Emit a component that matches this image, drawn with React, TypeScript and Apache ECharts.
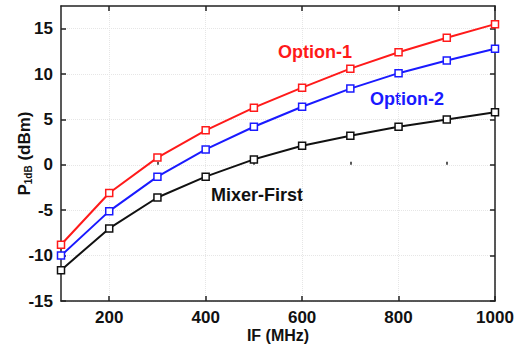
import React, { useEffect, useRef } from "react";
import * as echarts from "echarts";

const IF_MHZ = [100, 200, 300, 400, 500, 600, 700, 800, 900, 1000];
const OPTION1 = [-8.8, -3.1, 0.8, 3.8, 6.3, 8.5, 10.6, 12.4, 14.0, 15.5];
const OPTION2 = [-10.0, -5.1, -1.3, 1.7, 4.2, 6.4, 8.4, 10.1, 11.5, 12.8];
const MIXER_FIRST = [-11.6, -7.0, -3.6, -1.3, 0.6, 2.1, 3.2, 4.2, 5.0, 5.8];
const X_MAJOR = [200, 400, 600, 800, 1000];
const X_MINOR = [300, 500, 700, 900];
const Y_TICKS = [-15, -10, -5, 0, 5, 10, 15];

const FONT = "Liberation Sans, Arial, sans-serif";

export default function App() {
  const ref = useRef<HTMLDivElement>(null);
  useEffect(() => {
    document.body.style.margin = "0";
    const chart = echarts.init(ref.current!, null, { renderer: "svg" });
    const pairs = (ys: number[]) => IF_MHZ.map((x, i) => [x, ys[i]]);
    const mkSeries = (name: string, ys: number[], color: string) => ({
      name,
      type: "line",
      data: pairs(ys),
      xAxisIndex: 0,
      yAxisIndex: 0,
      symbol: "rect",
      symbolSize: 7,
      lineStyle: { color, width: 2 },
      itemStyle: { color: "#fff", borderColor: color, borderWidth: 1.5 },
      z: 5,
    });
    const baseX = {
      type: "value",
      min: 100,
      max: 1000,
      interval: 100,
      splitLine: { show: false },
    };
    chart.setOption({
      animation: false,
      backgroundColor: "#fff",
      textStyle: { fontFamily: FONT },
      grid: { left: 61, right: 24, top: 6, bottom: 44, show: false, containLabel: false, outerBoundsMode: "none" },
      xAxis: [
        {
          ...baseX,
          position: "bottom",
          name: "IF (MHz)",
          nameLocation: "middle",
          nameGap: 26,
          nameMoveOverlap: false,
          nameTextStyle: { fontSize: 16, fontWeight: "bold", color: "#111", fontFamily: FONT, verticalAlign: "top" },
          axisLine: { show: true, onZero: false, lineStyle: { color: "#222", width: 1.5 } },
          axisTick: { show: true, inside: true, length: 5, customValues: X_MAJOR, lineStyle: { color: "#222", width: 1.5 } },
          axisLabel: {
            show: true,
            customValues: X_MAJOR,
            formatter: (v: number) => String(v),
            margin: 8,
            fontSize: 17,
            fontWeight: "bold",
            color: "#111",
            fontFamily: FONT,
          },
          splitLine: { show: true, lineStyle: { color: "#e6e6e6", type: "dotted", width: 1 } },
        },
        {
          ...baseX,
          position: "bottom",
          axisLine: { show: false },
          axisTick: { show: true, inside: true, length: 3, customValues: X_MINOR, lineStyle: { color: "#222", width: 1.5 } },
          axisLabel: { show: false },
        },
        {
          ...baseX,
          position: "top",
          axisLine: { show: true, onZero: false, lineStyle: { color: "#222", width: 1.5 } },
          axisTick: { show: true, inside: true, length: 5, customValues: X_MAJOR, lineStyle: { color: "#222", width: 1.5 } },
          axisLabel: { show: false },
        },
      ],
      yAxis: [
        {
          type: "value",
          min: -15,
          max: 17.5,
          interval: 5,
          position: "left",
          name: "P{sub|1dB} (dBm)",
          nameLocation: "middle",
          nameGap: 28,
          nameMoveOverlap: false,
          nameTextStyle: {
            fontSize: 17,
            fontWeight: "bold",
            color: "#111",
            fontFamily: FONT,
            rich: { sub: { fontSize: 10, fontWeight: "bold", color: "#111", fontFamily: FONT, verticalAlign: "bottom", padding: [8, 0, 0, 0] } },
          },
          axisLine: { show: true, onZero: false, lineStyle: { color: "#222", width: 1.5 } },
          axisTick: { show: true, inside: true, length: 5, customValues: Y_TICKS, lineStyle: { color: "#222", width: 1.5 } },
          axisLabel: { show: true, customValues: Y_TICKS, margin: 8, fontSize: 17, fontWeight: "bold", color: "#111", fontFamily: FONT },
          splitLine: { show: true, lineStyle: { color: "#e6e6e6", type: "dotted", width: 1 } },
        },
        {
          type: "value",
          min: -15,
          max: 17.5,
          interval: 5,
          position: "right",
          axisLine: { show: true, onZero: false, lineStyle: { color: "#222", width: 1.5 } },
          axisTick: { show: true, inside: true, length: 5, customValues: Y_TICKS, lineStyle: { color: "#222", width: 1.5 } },
          axisLabel: { show: false },
          splitLine: { show: false },
        },
      ],
      series: [
        mkSeries("Mixer-First", MIXER_FIRST, "#111111"),
        mkSeries("Option-2", OPTION2, "#1a1aff"),
        mkSeries("Option-1", OPTION1, "#ff1a1a"),
      ],
      graphic: [
        { type: "text", x: 315, y: 52, style: { text: "Option-1", fill: "#ff1a1a", font: `bold 18px ${FONT}`, align: "center", verticalAlign: "middle" } },
        { type: "text", x: 407, y: 99, style: { text: "Option-2", fill: "#1a1aff", font: `bold 18px ${FONT}`, align: "center", verticalAlign: "middle" } },
        { type: "text", x: 257, y: 195, style: { text: "Mixer-First", fill: "#111", font: `bold 18px ${FONT}`, align: "center", verticalAlign: "middle" } },
      ],
    });
    return () => chart.dispose();
  }, []);
  return <div ref={ref} style={{ width: 519, height: 345 }} />;
}
